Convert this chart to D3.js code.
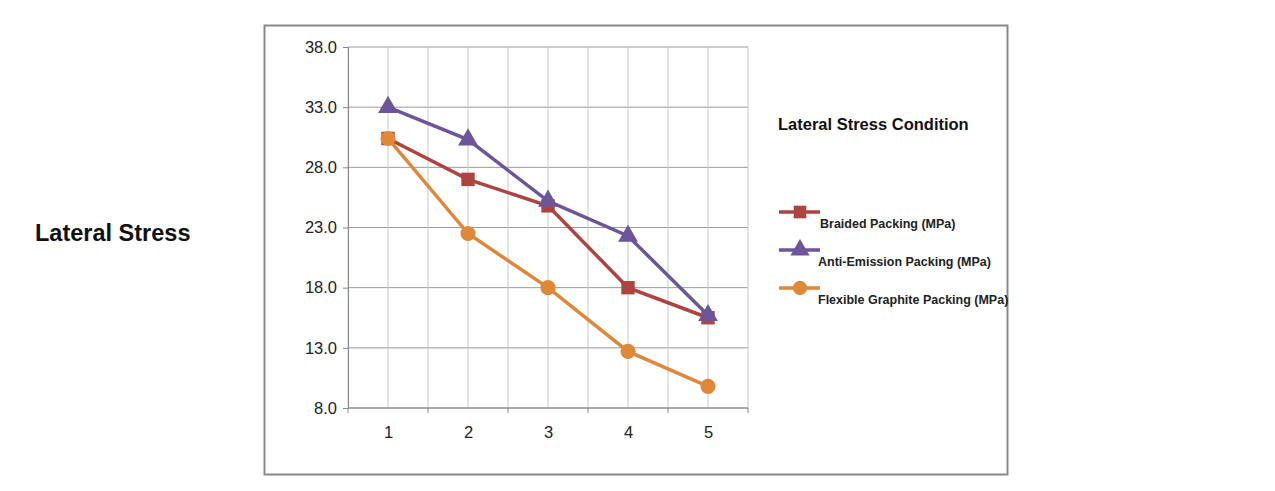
<!DOCTYPE html><html><head><meta charset="utf-8"><script src="https://cdn.jsdelivr.net/npm/d3@7"></script>
<style>body{margin:0;background:#fff}text{font-family:Arial,"Liberation Sans",sans-serif}</style></head><body>
<svg id="c" width="1275" height="491"></svg>
<script>
const categories=["1","2","3","4","5"];
const yTicks=[8,13,18,23,28,33,38];
const braided=[30.4,27.0,24.8,18.0,15.5];
const antiEmission=[33.0,30.3,25.2,22.3,15.7];
const flexible=[30.4,22.5,18.0,12.7,9.8];
const seriesNames=["Braided Packing (MPa)","Anti-Emission Packing (MPa)","Flexible Graphite Packing (MPa)"];
const colors=["#ad4440","#6d559a","#e0883a"];
const shapes=[d3.symbolSquare,d3.symbolTriangle,d3.symbolCircle];
const series=[braided,antiEmission,flexible];

const svg=d3.select("#c");
svg.append("rect").attr("x",264.5).attr("y",25.5).attr("width",743).attr("height",449).attr("fill","none").attr("stroke","#888").attr("stroke-width",2);
const x=d3.scalePoint().domain(categories).range([388,708]);
const y=d3.scaleLinear().domain([8,38]).range([408,47]);
const L=348,R=748;
const g=svg.append("g");
yTicks.forEach(t=>g.append("line").attr("x1",L).attr("x2",R).attr("y1",y(t)).attr("y2",y(t)).attr("stroke","#999"));
for(let i=0;i<=10;i++){const xx=L+i*(R-L)/10;g.append("line").attr("x1",xx).attr("x2",xx).attr("y1",y(38)).attr("y2",y(8)).attr("stroke","#c8c8c8");}
const ya=svg.append("g").attr("transform",`translate(${L},0)`).call(d3.axisLeft(y).tickValues(yTicks).tickFormat(d3.format(".1f")).tickSize(5));
ya.selectAll("text").attr("font-size",16.5).attr("fill","#222").attr("dx",-3);
ya.select(".domain").attr("stroke","#888");ya.selectAll(".tick line").attr("stroke","#888");
const xa=svg.append("g").attr("transform",`translate(0,${y(8)})`).call(d3.axisBottom(x).tickSize(0).tickPadding(0));
xa.select(".domain").attr("d",`M${L},0H${R}`).attr("stroke","#888");
xa.selectAll("text").attr("font-size",16.5).attr("fill","#222").attr("dy",30);
for(let i=0;i<=5;i++){const xx=L+i*80;svg.append("line").attr("x1",xx).attr("x2",xx).attr("y1",408).attr("y2",413).attr("stroke","#888");}
const line=d3.line().x((d,i)=>x(categories[i])).y(d=>y(d));
series.forEach((s,k)=>{
  svg.append("path").datum(s).attr("d",line).attr("fill","none").attr("stroke",colors[k]).attr("stroke-width",3.5);
  svg.selectAll(null).data(s).enter().append("path").attr("d",d3.symbol().type(shapes[k]).size(k==1?170:180))
   .attr("transform",(d,i)=>`translate(${x(categories[i])},${y(d)})`).attr("fill",colors[k]);
});
svg.append("text").attr("x",35).attr("y",241).attr("font-size",23.5).attr("font-weight","bold").attr("fill","#111").text("Lateral Stress");
svg.append("text").attr("x",778).attr("y",130).attr("font-size",16.5).attr("font-weight","bold").attr("fill","#111").text("Lateral Stress Condition");
const ly=[212,250,288];
series.forEach((s,k)=>{
  svg.append("line").attr("x1",779).attr("x2",820).attr("y1",ly[k]).attr("y2",ly[k]).attr("stroke",colors[k]).attr("stroke-width",3.5);
  svg.append("path").attr("d",d3.symbol().type(shapes[k]).size(160)).attr("transform",`translate(800,${ly[k]})`).attr("fill",colors[k]);
  svg.append("text").attr("x",k==0?820:818).attr("y",ly[k]+16).attr("font-size",12.5).attr("font-weight","bold").attr("fill","#222").text(seriesNames[k]);
});
</script></body></html>
